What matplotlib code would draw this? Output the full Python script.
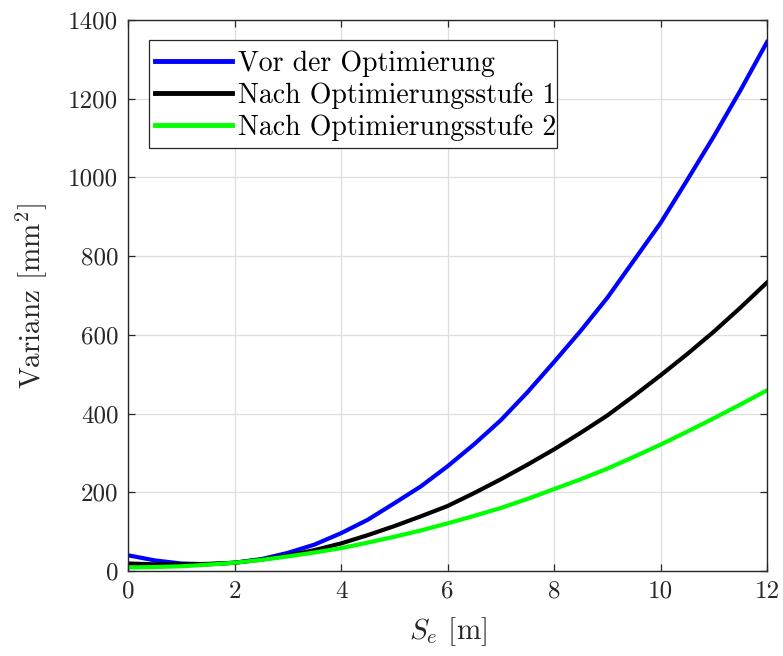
import matplotlib
matplotlib.use("Agg")
import matplotlib.pyplot as plt
from matplotlib.patches import Rectangle

# Distance S_e in metres
s_e = [0, 0.5, 1, 1.5, 2, 2.5, 3, 3.5, 4, 4.5, 5, 5.5, 6, 6.5, 7, 7.5,
       8, 8.5, 9, 9.5, 10, 10.5, 11, 11.5, 12]

# Variance in mm^2 for each optimisation stage
var_before = [40, 27, 19, 17, 21, 30, 46, 67, 96, 130, 172, 215, 266, 322,
              383, 454, 531, 610, 694, 789, 884, 993, 1104, 1221, 1344]
var_stage1 = [19, 17, 17, 18, 21, 29, 39, 53, 70, 91, 114, 139, 165, 198,
              233, 270, 309, 351, 395, 445, 497, 551, 608, 669, 733]
var_stage2 = [9, 10, 12, 16, 21, 28, 37, 47, 58, 72, 87, 103, 121, 140,
              160, 183, 208, 233, 260, 290, 321, 354, 388, 423, 459]

series_labels = ["Vor der Optimierung",
                 "Nach Optimierungsstufe 1",
                 "Nach Optimierungsstufe 2"]
x_ticks = [0, 2, 4, 6, 8, 10, 12]
y_ticks = [0, 200, 400, 600, 800, 1000, 1200, 1400]

plt.rcParams["font.family"] = ["cmr10", "DejaVu Serif"]
plt.rcParams["mathtext.fontset"] = "cm"
plt.rcParams["axes.unicode_minus"] = False
plt.rcParams["axes.formatter.use_mathtext"] = True

W, H = 783, 656
fig = plt.figure(figsize=(W / 100, H / 100), dpi=100)
ax = fig.add_axes([128 / W, 1 - 571 / H, 639 / W, 551 / H])

lw = 3.0
ax.plot(s_e, var_before, color=(0, 0, 1), lw=lw, label=series_labels[0])
ax.plot(s_e, var_stage1, color=(0, 0, 0), lw=lw, label=series_labels[1])
ax.plot(s_e, var_stage2, color=(0, 1, 0), lw=lw, label=series_labels[2])

ax.set_xlim(0, 12)
ax.set_ylim(0, 1400)
ax.set_xticks(x_ticks)
ax.set_yticks(y_ticks)
ax.set_xticklabels([str(v) for v in x_ticks])
ax.set_yticklabels([str(v) for v in y_ticks])

ax.grid(True, color="#dedede", lw=0.9)
ax.set_axisbelow(True)
for sp in ax.spines.values():
    sp.set_color("#262626")
    sp.set_linewidth(1.0)
ax.tick_params(direction="in", length=5, width=0.9, colors="#262626",
               labelcolor="#262626", labelsize=18, top=True, right=True, pad=7)

ax.set_xlabel(r"$S_e$ [m]", fontsize=21, color="#262626", labelpad=9)
ax.set_ylabel(r"Varianz [mm$^2$]", fontsize=21, color="#262626", labelpad=14)

# legend box drawn separately so its padding can be set per side
box = Rectangle((149 / W, 1 - 148 / H), 408 / W, 108 / H,
                transform=fig.transFigure, facecolor="white",
                edgecolor="#262626", lw=0.9, zorder=4.9, clip_on=False)
ax.add_artist(box)

leg = ax.legend(loc="upper left",
                bbox_to_anchor=((149 - 128) / 639, (571 - 45) / 551),
                borderaxespad=0, fontsize=20, frameon=False,
                handlelength=2.8, handletextpad=0.2, labelspacing=0.2,
                borderpad=0.2)
leg.set_zorder(5)
for h in leg.get_lines():
    h.set_linewidth(3.5)

fig.savefig("out.png", dpi=100)
